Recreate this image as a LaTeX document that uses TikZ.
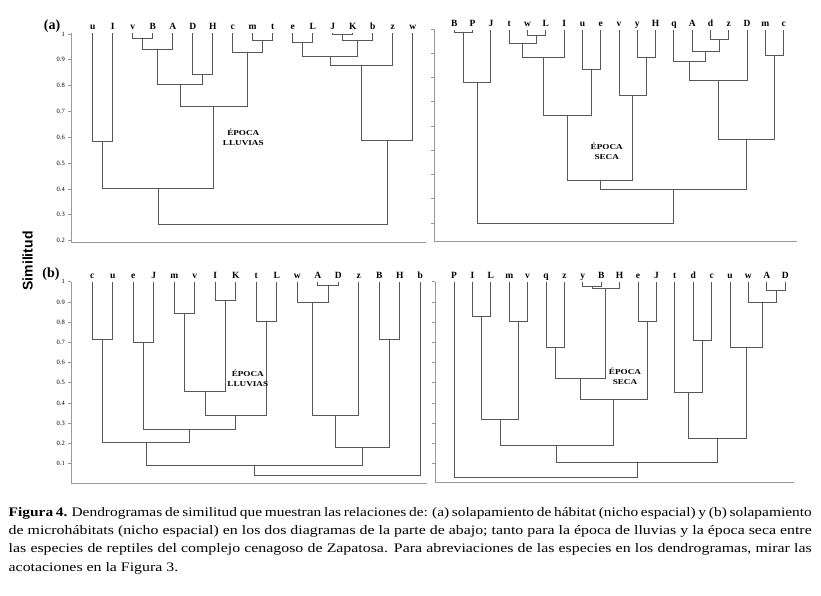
\documentclass[tikz,border=0pt]{standalone}
\usepackage{fontspec}
\setmainfont{Liberation Serif}
\newfontfamily\arialf{Liberation Sans}
\newfontfamily\widef{Liberation Serif}[FakeStretch=1.22]
\newfontfamily\widefa{Liberation Serif}[FakeStretch=1.185]
\usetikzlibrary{calc}
\tikzset{
  dend/.style={draw=black!66, line width=0.95pt},
  axisln/.style={draw=black!40, line width=0.8pt},
  leaf/.style={font=\fontsize{9.5}{10}\selectfont\bfseries, inner sep=0pt, anchor=base},
  ticklab/.style={font=\fontsize{6.5}{7}\selectfont, inner sep=0pt, anchor=east},
  epoca/.style={font=\widef\fontsize{7.5}{10}\selectfont\bfseries, align=center, inner sep=0pt},
  panlab/.style={font=\fontsize{14}{15}\selectfont\bfseries, inner sep=0pt},
  capt/.style={font=\widef\fontsize{13}{15}\selectfont, inner sep=0pt, anchor=base west},
}
\newcommand\myleaves[5]{%
  \foreach \n [count=\i from 0] in {#5} {
    \coordinate (#1-\n) at ({#2+#3*\i},{#4});
    \node[leaf] (#1-\n-lab) at ({#2+#3*\i},{#4-3.5}) {\n};
  }}
\newcommand\mrg[4]{%
  \coordinate (mtmp) at ($(#2)!0.5!(#3)$);
  \coordinate (ytmp) at (0,{#4});
  \coordinate (#1) at (mtmp |- ytmp);
  \draw[dend] (#2) -- (#2 |- #1) -- (#3 |- #1) -- (#3);}
\begin{document}
\begin{tikzpicture}[x=1pt,y=-1pt]
\fill[white] (0,0) rectangle (821,596);
\useasboundingbox (0,0) rectangle (821,596);

% ---------- axes ----------
\draw[axisln] (71,33) -- (71,242) -- (426,242);
\foreach \v [count=\k from 0] in {1,0.9,0.8,0.7,0.6,0.5,0.4,0.3,0.2} {
  \draw[axisln] (68,{34+25.84*\k}) -- (71,{34+25.84*\k});
  \node[ticklab] (ta\k) at (65,{34+25.84*\k}) {\v};
}
\draw[axisln] (434,29) -- (434,241.5) -- (797,241.5);
\foreach \k in {0,...,8} {
  \draw[axisln] (431,{29.3+24.2*\k}) -- (434,{29.3+24.2*\k});
}
\draw[axisln] (71,281.7) -- (71,483.3) -- (427,483.3);
\foreach \v [count=\k from 0] in {1,0.9,0.8,0.7,0.6,0.5,0.4,0.3,0.2,0.1} {
  \draw[axisln] (68,{281.7+20.2*\k}) -- (71,{281.7+20.2*\k});
  \node[ticklab] (tb\k) at (65,{281.7+20.2*\k}) {\v};
}
\draw[axisln] (435,281.7) -- (435,482.7) -- (794,482.7);
\foreach \k in {0,...,9} {
  \draw[axisln] (432,{281.7+20.2*\k}) -- (435,{281.7+20.2*\k});
}

% ---------- panel (a) lluvias ----------
\myleaves{p1}{92.7}{20}{33}{u,I,v,B,A,D,H,c,m,t,e,L,J,K,b,z,w}
\mrg{p1-vB}{p1-v}{p1-B}{38.3}
\mrg{p1-vBA}{p1-vB}{p1-A}{49.3}
\mrg{p1-DH}{p1-D}{p1-H}{74}
\mrg{p1-g1}{p1-vBA}{p1-DH}{84}
\mrg{p1-mt}{p1-m}{p1-t}{40}
\mrg{p1-cmt}{p1-c}{p1-mt}{52.7}
\mrg{p1-g2}{p1-g1}{p1-cmt}{106}
\mrg{p1-uI}{p1-u}{p1-I}{141.7}
\mrg{p1-g3}{p1-uI}{p1-g2}{188.3}
\mrg{p1-JK}{p1-J}{p1-K}{34}
\mrg{p1-JKb}{p1-JK}{p1-b}{40}
\mrg{p1-eL}{p1-e}{p1-L}{42.7}
\mrg{p1-g4}{p1-eL}{p1-JKb}{56}
\mrg{p1-g5}{p1-g4}{p1-z}{65}
\mrg{p1-g6}{p1-g5}{p1-w}{140}
\mrg{p1-root}{p1-g3}{p1-g6}{224.3}

% ---------- panel (a) seca ----------
\myleaves{p2}{454.3}{18.3}{30.5}{B,P,J,t,w,L,I,u,e,v,y,H,q,A,d,z,D,m,c}
\mrg{p2-BP}{p2-B}{p2-P}{32.7}
\mrg{p2-BPJ}{p2-BP}{p2-J}{82.7}
\mrg{p2-wL}{p2-w}{p2-L}{35}
\mrg{p2-twL}{p2-t}{p2-wL}{43.3}
\mrg{p2-twLI}{p2-twL}{p2-I}{57.3}
\mrg{p2-ue}{p2-u}{p2-e}{69.3}
\mrg{p2-h1}{p2-twLI}{p2-ue}{115}
\mrg{p2-yH}{p2-y}{p2-H}{57.7}
\mrg{p2-vyH}{p2-v}{p2-yH}{95}
\mrg{p2-h2}{p2-h1}{p2-vyH}{180.7}
\mrg{p2-dz}{p2-d}{p2-z}{39}
\mrg{p2-Adz}{p2-A}{p2-dz}{51.7}
\mrg{p2-qAdz}{p2-q}{p2-Adz}{61.7}
\mrg{p2-h3}{p2-qAdz}{p2-D}{80.7}
\mrg{p2-mc}{p2-m}{p2-c}{55}
\mrg{p2-h4}{p2-h3}{p2-mc}{139.3}
\mrg{p2-h5}{p2-h2}{p2-h4}{189.3}
\mrg{p2-root}{p2-BPJ}{p2-h5}{223.3}

% ---------- panel (b) lluvias ----------
\myleaves{p3}{92.3}{20.5}{281.7}{c,u,e,J,m,v,I,K,t,L,w,A,D,z,B,H,b}
\mrg{p3-cu}{p3-c}{p3-u}{339.3}
\mrg{p3-eJ}{p3-e}{p3-J}{342.7}
\mrg{p3-mv}{p3-m}{p3-v}{313.3}
\mrg{p3-IK}{p3-I}{p3-K}{300.7}
\mrg{p3-mvIK}{p3-mv}{p3-IK}{391.7}
\mrg{p3-tL}{p3-t}{p3-L}{321.7}
\mrg{p3-k1}{p3-mvIK}{p3-tL}{415.7}
\mrg{p3-k2}{p3-eJ}{p3-k1}{429}
\mrg{p3-k3}{p3-cu}{p3-k2}{442.3}
\mrg{p3-AD}{p3-A}{p3-D}{285.7}
\mrg{p3-wAD}{p3-w}{p3-AD}{302.3}
\mrg{p3-k4}{p3-wAD}{p3-z}{415.7}
\mrg{p3-BH}{p3-B}{p3-H}{339.3}
\mrg{p3-k5}{p3-k4}{p3-BH}{447.7}
\mrg{p3-k6}{p3-k3}{p3-k5}{465.7}
\mrg{p3-root}{p3-k6}{p3-b}{475.7}

% ---------- panel (b) seca ----------
\myleaves{p4}{454}{18.4}{281.7}{P,I,L,m,v,q,z,y,B,H,e,J,t,d,c,u,w,A,D}
\mrg{p4-IL}{p4-I}{p4-L}{316.7}
\mrg{p4-mv}{p4-m}{p4-v}{321}
\mrg{p4-m1}{p4-IL}{p4-mv}{419.3}
\mrg{p4-qz}{p4-q}{p4-z}{347.3}
\mrg{p4-yB}{p4-y}{p4-B}{286.7}
\mrg{p4-yBH}{p4-yB}{p4-H}{288.3}
\mrg{p4-m2}{p4-qz}{p4-yBH}{378.3}
\mrg{p4-eJ}{p4-e}{p4-J}{321.7}
\mrg{p4-m3}{p4-m2}{p4-eJ}{399}
\mrg{p4-m4}{p4-m1}{p4-m3}{445}
\mrg{p4-dc}{p4-d}{p4-c}{340.7}
\mrg{p4-tdc}{p4-t}{p4-dc}{392.7}
\mrg{p4-AD}{p4-A}{p4-D}{290.7}
\mrg{p4-wAD}{p4-w}{p4-AD}{302.3}
\mrg{p4-uwAD}{p4-u}{p4-wAD}{347.3}
\mrg{p4-m5}{p4-tdc}{p4-uwAD}{438.3}
\mrg{p4-m6}{p4-m4}{p4-m5}{462.7}
\mrg{p4-root}{p4-P}{p4-m6}{477.7}

% ---------- labels ----------
\node[panlab] (la) at (52,26) {(a)};
\node[panlab] (lb) at (51,274) {(b)};
\node[font=\arialf\fontsize{14}{15}\selectfont\bfseries, rotate=90, inner sep=0pt] (sim) at (27.5,261) {Similitud};
\node[epoca] (e1) at (243.3,137.2) {ÉPOCA\\LLUVIAS};
\node[epoca] (e2) at (606.7,151.7) {ÉPOCA\\SECA};
\node[epoca] (e3) at (247.8,378.3) {ÉPOCA\\LLUVIAS};
\node[epoca] (e4) at (625,376.3) {ÉPOCA\\SECA};

% ---------- caption ----------
\node[capt] (c1) at (8.5,516.5) {\widefa\fontsize{13}{15}\selectfont\spaceskip=0.22em plus 0.4em minus 0.04em\relax\makebox[803pt][s]{\textbf{Figura 4.} Dendrogramas de similitud que muestran las relaciones de: (a) solapamiento de hábitat (nicho espacial) y (b) solapamiento}};
\node[capt] (c2) at (8.5,534.7) {\makebox[803pt][s]{de microhábitats (nicho espacial) en los dos diagramas de la parte de abajo; tanto para la época de lluvias y la época seca entre}};
\node[capt] (c3) at (8.5,552.9) {\makebox[803pt][s]{las especies de reptiles del complejo cenagoso de Zapatosa. Para abreviaciones de las especies en los dendrogramas, mirar las}};
\node[capt] (c4) at (8.5,571.1) {acotaciones en la Figura 3.};
\end{tikzpicture}
\end{document}
